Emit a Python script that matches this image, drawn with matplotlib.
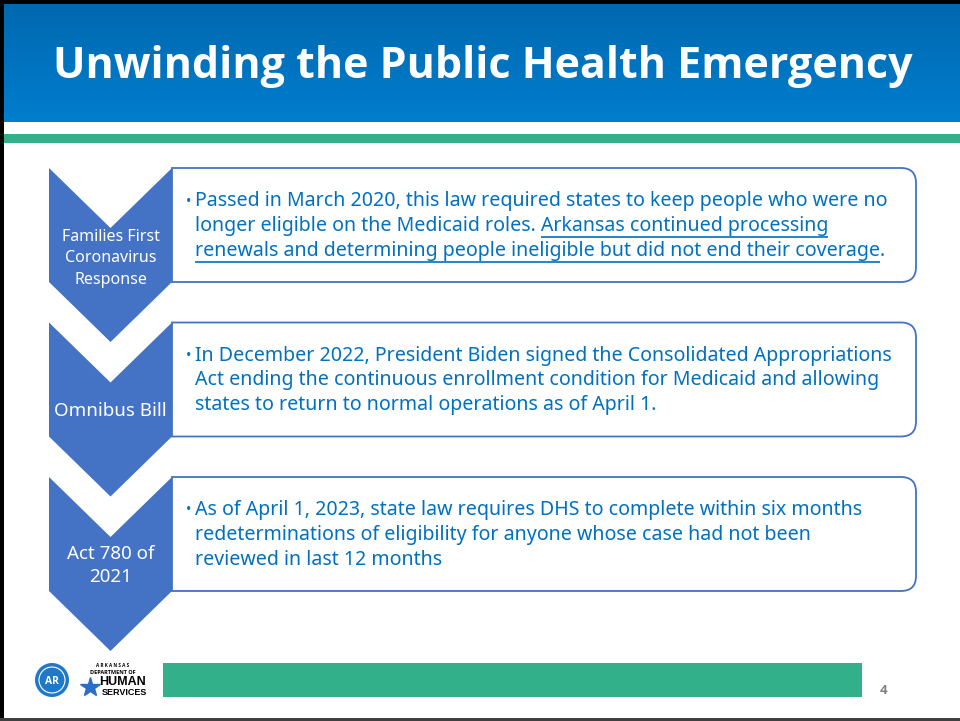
import matplotlib
matplotlib.use("Agg")
import matplotlib.pyplot as plt
import numpy as np
from matplotlib.path import Path
from matplotlib.patches import PathPatch, Polygon, Rectangle, Circle

# ---------------- content ----------------
title = "Unwinding the Public Health Emergency"
step_labels = ["Families First\nCoronavirus\nResponse", "Omnibus Bill", "Act 780 of\n2021"]
step_label_sizes = [11.5, 13.5, 13.5]
# each body line: list of (text, underlined)
body_lines = [
    [
        [("Passed in March 2020, this law required states to keep people who were no", False)],
        [("longer eligible on the Medicaid roles. ", False), ("Arkansas continued processing", True)],
        [("renewals and determining people ineligible but did not end their coverage", True), (".", False)],
    ],
    [
        [("In December 2022, President Biden signed the Consolidated Appropriations", False)],
        [("Act ending the continuous enrollment condition for Medicaid and allowing", False)],
        [("states to return to normal operations as of April 1.", False)],
    ],
    [
        [("As of April 1, 2023, state law requires DHS to complete within six months", False)],
        [("redeterminations of eligibility for anyone whose case had not been", False)],
        [("reviewed in last 12 months", False)],
    ],
]
page_number = "4"

# ---------------- styles ----------------
CHEV = "#4472C4"
TXT = "#0070C0"
GREEN = "#31B08A"
FONT = ["Noto Sans", "DejaVu Sans"]
BOLD = ["Open Sans", "DejaVu Sans"]

W, H = 960, 721
fig = plt.figure(figsize=(W / 100, H / 100), dpi=100)
ax = fig.add_axes([0, 0, 1, 1])
ax.set_xlim(0, W)
ax.set_ylim(H, 0)
ax.axis("off")

# title bar gradient
grad = np.linspace(0, 1, 256).reshape(-1, 1)
top = np.array([0x00, 0x68, 0xB0]) / 255
bot = np.array([0x00, 0x7E, 0xCE]) / 255
img = top + (bot - top) * grad[..., None]
img = img.reshape(256, 1, 3)
ax.imshow(img, extent=(0, W, 122, 4), aspect="auto", zorder=1)
ax.set_xlim(0, W)
ax.set_ylim(H, 0)

ax.text(483, 67, title, color="white", fontsize=31, fontweight="bold",
        family=BOLD, ha="center", va="center", zorder=5)

# green band under title
ax.add_patch(Rectangle((0, 134), W, 9, facecolor=GREEN, edgecolor="none", zorder=2))

# slide borders
ax.add_patch(Rectangle((0, 0), W, 4, facecolor="black", edgecolor="none", zorder=6))
ax.add_patch(Rectangle((0, 0), 4, H, facecolor="black", edgecolor="none", zorder=6))
ax.add_patch(Rectangle((0, 718), W, 3, facecolor="#404040", edgecolor="none", zorder=6))

# steps
x0, x1, xc = 49, 172, 110.5
depth = 60
box_right = 916
radius = 15
tops = [168, 322.5, 477]
body_h = 114
label_dy = [3.5, 1.5, 1.5]

def right_round_box(xl, yt, xr, yb, r):
    verts = [(xl, yt), (xr - r, yt), (xr, yt), (xr, yt + r), (xr, yb - r),
             (xr, yb), (xr - r, yb), (xl, yb), (xl, yt)]
    codes = [Path.MOVETO, Path.LINETO, Path.CURVE3, Path.CURVE3, Path.LINETO,
             Path.CURVE3, Path.CURVE3, Path.LINETO, Path.CLOSEPOLY]
    return Path(verts, codes)

fig.canvas.draw()
renderer = fig.canvas.get_renderer()

def text_width(s, size):
    t = ax.text(0, 0, s, fontsize=size, family=FONT)
    bb = t.get_window_extent(renderer=renderer)
    t.remove()
    return bb.width

BODY_SIZE = 14.1
line_gap = 24.8
for i, (t, lab, lsize) in enumerate(zip(tops, step_labels, step_label_sizes)):
    b = t + body_h
    ax.add_patch(PathPatch(right_round_box(x1, t, box_right, b, radius),
                           facecolor="white", edgecolor=CHEV, lw=1.3, zorder=3))
    ax.add_patch(Polygon([(x0, t), (xc, t + depth), (x1, t), (x1, b), (xc, b + depth), (x0, b)],
                         closed=True, facecolor=CHEV, edgecolor="none", zorder=4))
    ax.text(xc, t + depth + (body_h - depth) / 2 + label_dy[i], lab, color="white", fontsize=lsize,
            family=FONT, ha="center", va="center", linespacing=1.42, zorder=5)
    # body text
    y_first = t + 33
    ax.text(186, y_first + 1, "\u2022", color=TXT, fontsize=10, family=FONT,
            ha="left", va="center", zorder=5)
    for j, segs in enumerate(body_lines[i]):
        y = y_first + j * line_gap
        full = "".join(s for s, _ in segs)
        ax.text(195, y, full, color=TXT, fontsize=BODY_SIZE, family=FONT,
                ha="left", va="center", zorder=5)
        # underlines
        pos = 0
        for s, u in segs:
            pre = full[:pos]
            if u:
                start = 195 + (text_width(pre + s, BODY_SIZE) - text_width(s, BODY_SIZE) if pre else 0)
                end = 195 + text_width(pre + s, BODY_SIZE)
                ax.plot([start, end], [y + 11, y + 11], color=TXT, lw=1.2, zorder=5,
                        solid_capstyle="butt")
            pos += len(s)

# footer
ax.add_patch(Rectangle((163, 663), 699, 34, facecolor=GREEN, edgecolor="none", zorder=2))
ax.text(884, 690, page_number, color="#808080", fontsize=9.5, fontweight="bold",
        family=BOLD, ha="center", va="center", zorder=5)

# logo
ax.add_patch(Circle((52, 680), 17, facecolor="#1F78C8", edgecolor="none", zorder=4))
ax.add_patch(Circle((52, 680), 13, facecolor="none", edgecolor="white", lw=0.8, zorder=5))
ax.text(52, 681, "AR", color="white", fontsize=7.5, fontweight="bold", family=BOLD,
        ha="center", va="center", zorder=6)
ax.text(113, 665.5, "A R K A N S A S", color="black", fontsize=3.3, fontweight="bold",
        family=BOLD, ha="center", va="center", zorder=5)
ax.text(113, 672, "DEPARTMENT OF", color="black", fontsize=4, fontweight="bold",
        family=BOLD, ha="center", va="center", zorder=5)
ax.text(123, 682, "HUMAN", color="black", fontsize=9, fontweight="bold",
        family=["Liberation Sans Narrow", "Liberation Sans", "DejaVu Sans"],
        ha="center", va="center", zorder=5)
ax.text(124, 692.5, "SERVICES", color="black", fontsize=6.5, fontweight="bold",
        family=["Liberation Sans Narrow", "Liberation Sans", "DejaVu Sans"],
        ha="center", va="center", zorder=5)
ax.plot([90], [687], marker="*", markersize=15, color="#2A6FC4", zorder=5)

fig.savefig("out.png", dpi=100)
